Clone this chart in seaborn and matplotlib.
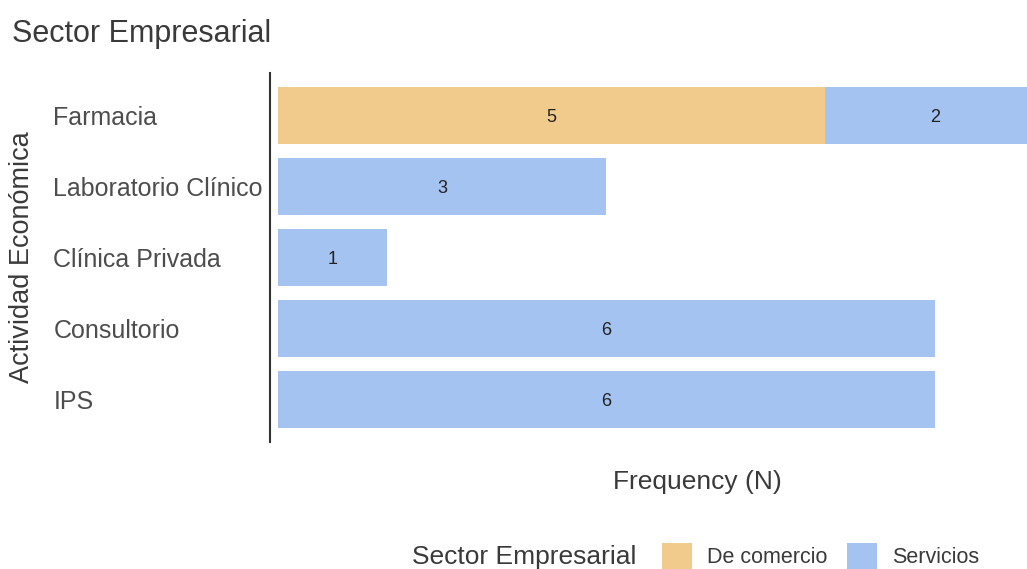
import matplotlib
matplotlib.use("Agg")
import matplotlib.pyplot as plt
from matplotlib.patches import Patch
import pandas as pd
import seaborn as sns

# Business activity by sector (counts)
categories = ["Farmacia", "Laboratorio Clínico", "Clínica Privada", "Consultorio", "IPS"]
comercio = [5, 0, 0, 0, 0]
servicios = [2, 3, 1, 6, 6]
sector_labels = ["De comercio", "Servicios"]

COL_COMERCIO = "#F0CB8B"
COL_SERVICIOS = "#A4C3F1"
TEXT_DARK = "#3A3A3A"
TEXT_GREY = "#4D4D4D"

df = pd.DataFrame({"actividad": categories, "comercio": comercio, "servicios": servicios})
df["total"] = df["comercio"] + df["servicios"]

sns.set_theme(style="white")
plt.rcParams["font.family"] = ["Liberation Sans", "DejaVu Sans"]

W, H = 1027, 569
fig = plt.figure(figsize=(W / 100, H / 100), dpi=100)
# plot panel extends past the right edge of the canvas
ax = fig.add_axes([270 / W, 1 - 442 / H, 854 / W, 369 / H])

# stacked bars: full total in the Servicios colour, De comercio drawn over it
sns.barplot(data=df, x="total", y="actividad", order=categories, orient="h",
            color=COL_SERVICIOS, saturation=1, width=0.8, linewidth=0, ax=ax)
sns.barplot(data=df, x="comercio", y="actividad", order=categories, orient="h",
            color=COL_COMERCIO, saturation=1, width=0.8, linewidth=0, ax=ax)

# segment value labels
for i, row in df.iterrows():
    if row["comercio"] > 0:
        ax.text(row["comercio"] / 2, i, f"{row['comercio']}", ha="center",
                va="center_baseline", fontsize=13, color="#222222")
    if row["servicios"] > 0:
        ax.text(row["comercio"] + row["servicios"] / 2, i, f"{row['servicios']}",
                ha="center", va="center_baseline", fontsize=13, color="#222222")

ax.set_xlim(-0.073, 7.73)
ax.set_ylim(4.6, -0.6)
ax.set_xticks([])
for side in ["top", "right", "bottom"]:
    ax.spines[side].set_visible(False)
ax.spines["left"].set_color("#333333")
ax.spines["left"].set_linewidth(1.5)

ax.tick_params(axis="y", length=0, pad=156, labelsize=18, labelcolor=TEXT_GREY)
for lab in ax.get_yticklabels():
    lab.set_horizontalalignment("left")

ax.set_xlabel("Frequency (N)", fontsize=19, color=TEXT_DARK, va="center")
ax.xaxis.set_label_coords(0.5, -40 / 369)
ax.set_ylabel("Actividad Económica", fontsize=19.5, color=TEXT_DARK, va="center")
ax.yaxis.set_label_coords(-248 / 854, 0.5)

fig.text(12 / W, 1 - 42 / H, "Sector Empresarial", fontsize=22, color=TEXT_DARK,
         ha="left", va="baseline")

# legend along the bottom with the title inline
leg_y = 1 - 557 / H
fig.text(412 / W, leg_y, "Sector Empresarial", fontsize=19, color=TEXT_DARK,
         ha="left", va="center")
handles = [Patch(facecolor=COL_COMERCIO, edgecolor="none"),
           Patch(facecolor=COL_SERVICIOS, edgecolor="none")]
fig.legend(handles, sector_labels, loc="center left", bbox_to_anchor=(662 / W, 1 - 556 / H),
           ncol=2, frameon=False, fontsize=15.5, handlelength=1.4, handleheight=1.45,
           handletextpad=0.7, columnspacing=0.9, borderpad=0, borderaxespad=0,
           labelcolor=TEXT_DARK)

fig.savefig("out.png", dpi=100)
